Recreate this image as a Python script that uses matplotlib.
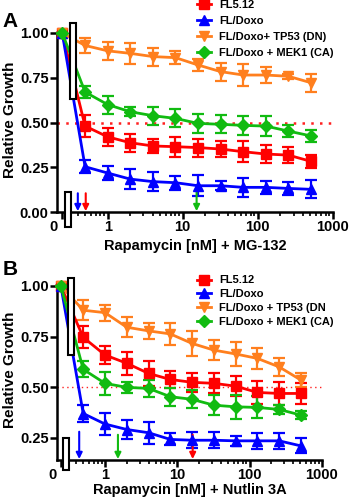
import numpy as np
import matplotlib
matplotlib.use("Agg")
import matplotlib.pyplot as plt
from matplotlib.patches import Rectangle
from matplotlib.lines import Line2D
import matplotlib.transforms as mtransforms

plt.rcParams['font.family'] = ['Liberation Sans', 'DejaVu Sans']
plt.rcParams['font.weight'] = 'bold'

# ---------------- data ----------------
conc = [0, 0.5, 1, 2, 4, 8, 16, 32, 64, 128, 256, 512]
labels_A = ["FL5.12", "FL/Doxo", "FL/Doxo+ TP53 (DN)", "FL/Doxo + MEK1 (CA)"]
labels_B = ["FL5.12", "FL/Doxo", "FL/Doxo + TP53 (DN", "FL/Doxo + MEK1 (CA)"]

# Panel A (MG-132)
a_fl512 = [1.00, 0.48, 0.42, 0.387, 0.369, 0.365, 0.360, 0.352, 0.337, 0.324, 0.318, 0.283]
a_fl512_err = [0, 0.06, 0.05, 0.05, 0.04, 0.055, 0.05, 0.045, 0.06, 0.05, 0.045, 0.035]
a_doxo = [1.00, 0.253, 0.218, 0.184, 0.170, 0.164, 0.147, 0.147, 0.138, 0.138, 0.132, 0.127]
a_doxo_err = [0, 0.037, 0.04, 0.055, 0.055, 0.04, 0.06, 0.025, 0.055, 0.035, 0.035, 0.05]
a_tp53 = [1.00, 0.93, 0.90, 0.886, 0.868, 0.862, 0.821, 0.784, 0.765, 0.765, 0.758, 0.722]
a_tp53_err = [0, 0.04, 0.05, 0.06, 0.05, 0.035, 0.035, 0.05, 0.06, 0.045, 0.015, 0.05]
a_mek1 = [1.00, 0.67, 0.60, 0.56, 0.538, 0.523, 0.495, 0.49, 0.484, 0.48, 0.452, 0.425]
a_mek1_err = [0, 0.035, 0.05, 0.025, 0.05, 0.05, 0.055, 0.05, 0.055, 0.055, 0.035, 0.035]
a_ic50 = [0.51, 0.40, None, 15.3]   # arrows: FL5.12, FL/Doxo, TP53, MEK1
a_arrow_top = [0.105, 0.105, None, 0.15]

# Panel B (Nutlin 3A)
b_fl512 = [1.00, 0.746, 0.659, 0.618, 0.568, 0.538, 0.524, 0.519, 0.505, 0.474, 0.469, 0.469]
b_fl512_err = [0, 0.055, 0.045, 0.058, 0.06, 0.04, 0.047, 0.05, 0.05, 0.057, 0.058, 0.053]
b_doxo = [1.00, 0.37, 0.318, 0.291, 0.275, 0.242, 0.238, 0.238, 0.235, 0.235, 0.235, 0.21]
b_doxo_err = [0, 0.043, 0.055, 0.045, 0.055, 0.03, 0.04, 0.04, 0.025, 0.04, 0.04, 0.037]
b_tp53 = [1.00, 0.88, 0.868, 0.796, 0.778, 0.763, 0.716, 0.683, 0.664, 0.642, 0.60, 0.535]
b_tp53_err = [0, 0.05, 0.04, 0.05, 0.04, 0.055, 0.06, 0.05, 0.058, 0.05, 0.045, 0.035]
b_mek1 = [1.00, 0.588, 0.519, 0.499, 0.494, 0.453, 0.44, 0.411, 0.403, 0.40, 0.39, 0.362]
b_mek1_err = [0, 0.04, 0.058, 0.027, 0.043, 0.045, 0.045, 0.05, 0.058, 0.054, 0.02, 0.02]
b_ic50 = [16.3, 0.44, None, 1.51]
b_arrow_top = [0.265, 0.28, None, 0.265]

colors = ['#FF0000', '#0000FF', '#FF7F1E', '#11BB11']
markers = ['s', '^', 'v', 'D']
msizes = [7, 7, 7, 6]


def make_scale(u0, t=0.35):
    lt = np.log10(t)
    k = (lt - u0) / t

    def fwd(x):
        x = np.asarray(x, dtype=float)
        with np.errstate(divide='ignore', invalid='ignore'):
            lg = np.log10(np.where(x > t, x, t))
        return np.where(x >= t, lg, u0 + k * x)

    def inv(u):
        u = np.asarray(u, dtype=float)
        return np.where(u >= lt, 10 ** np.where(u >= lt, u, lt), (u - u0) / k)
    return fwd, inv


def panel(ax, series, errs, ic50, atop, labels, ylim, yticks, xlabel,
          u0, xleft, tall_box, small_box, leg_pos, dot_lw, leg_spacing, xlab_y, ylab_y):
    fig = ax.figure
    fwd, inv = make_scale(u0)
    ax.set_xscale('function', functions=(fwd, inv))
    for y, e, c, m, ms in zip(series, errs, colors, markers, msizes):
        ax.errorbar(conc, y, yerr=e, color=c, marker=m, ms=ms, lw=2,
                    elinewidth=1.6, capsize=4, capthick=1.6, clip_on=False, zorder=3)
    ax.axhline(0.5, color='#FF2020', ls=(0, (1, 2.5)), lw=dot_lw, zorder=1, clip_on=False)
    for xv, top, c in zip(ic50, atop, colors):
        if xv is None:
            continue
        ax.annotate('', xy=(xv, ylim[0] + 0.005), xytext=(xv, top),
                    arrowprops=dict(arrowstyle='-|>', color=c, lw=1.5,
                                    mutation_scale=9, shrinkA=0, shrinkB=0))
    ax.set_xlim(xleft, 1000)
    ax.set_ylim(*ylim)
    ax.set_yticks(yticks)
    ax.set_yticklabels([f"{v:.2f}" for v in yticks])
    ax.set_xticks([0, 1, 10, 100, 1000])
    ax.set_xticklabels(['0', '1', '10', '100', '1000'])
    minors = [m * 10.0 ** d for d in (-1, 0, 1, 2) for m in range(2, 10)]
    minors = [v for v in minors if 0.38 < v < 1000]
    ax.set_xticks(minors, minor=True)
    ax.tick_params(axis='both', which='major', labelsize=10.5, width=1.8, length=5, pad=1)
    ax.tick_params(axis='x', which='minor', width=1.2, length=3)
    for lbl in ax.get_xticklabels():
        if lbl.get_text() == '0':
            lbl.set_transform(lbl.get_transform() +
                              mtransforms.ScaledTranslation(-6 / 72, 0, fig.dpi_scale_trans))
    for s in ('top', 'right'):
        ax.spines[s].set_visible(False)
    for s in ('left', 'bottom'):
        ax.spines[s].set_linewidth(1.8)
    H = fig.get_figheight() * fig.dpi
    W = fig.get_figwidth() * fig.dpi
    pos = ax.get_position()
    ax.set_ylabel('Relative Growth', fontsize=11, fontweight='bold')
    ax.yaxis.set_label_coords((10 / W - pos.x0) / pos.width,
                              ((1 - ylab_y / H) - pos.y0) / pos.height)
    ax.yaxis.label.set_va('center')
    ax.set_xlabel(xlabel, fontsize=10.5, fontweight='bold')
    ax.xaxis.set_label_coords(0.5, ((1 - xlab_y / H) - pos.y0) / pos.height)
    ax.xaxis.label.set_va('center')
    # break boxes (figure pixel coordinates, y from top)
    for (x0, y0, x1, y1) in (tall_box, small_box):
        r = Rectangle((x0, H - y1), x1 - x0, y1 - y0, transform=None,
                      facecolor='white', edgecolor='black', lw=1.5, zorder=10)
        fig.patches.append(r)
    handles = [Line2D([], [], color=c, marker=m, ms=ms, lw=2)
               for c, m, ms in zip(colors, markers, msizes)]
    fig.legend(handles, labels, loc='upper left', bbox_to_anchor=leg_pos,
               frameon=False, fontsize=8, handlelength=1.3, handletextpad=0.7,
               labelspacing=leg_spacing, borderpad=0, borderaxespad=0)


fig = plt.figure(figsize=(3.5, 4.99), dpi=100)
axA = fig.add_axes([0.163, 0.575, 0.788, 0.359])
axB = fig.add_axes([0.163, 0.078, 0.757, 0.349])

panel(axA, [a_fl512, a_doxo, a_tp53, a_mek1],
      [a_fl512_err, a_doxo_err, a_tp53_err, a_mek1_err],
      a_ic50, a_arrow_top, labels_A, (0, 1.0), [0, 0.25, 0.5, 0.75, 1.0],
      'Rapamycin [nM] + MG-132', -0.606, -0.16,
      (70, 23, 76, 99), (65, 192, 71, 227), (0.563, 1.0), 1.8, 0.55, 246, 120)
panel(axB, [b_fl512, b_doxo, b_tp53, b_mek1],
      [b_fl512_err, b_doxo_err, b_tp53_err, b_mek1_err],
      b_ic50, b_arrow_top, labels_B, (0.14, 1.0), [0.25, 0.5, 0.75, 1.0],
      'Rapamycin [nM] + Nutlin 3A', -0.61, -0.12,
      (68, 278, 74, 355), (63, 438, 69, 470), (0.563, 0.448), 1.0, 0.35, 490, 370)

fig.text(0.008, 0.975, 'A', fontsize=15, fontweight='bold', va='top')
fig.text(0.008, 0.478, 'B', fontsize=15, fontweight='bold', va='top')

fig.savefig('out.png', dpi=100)
